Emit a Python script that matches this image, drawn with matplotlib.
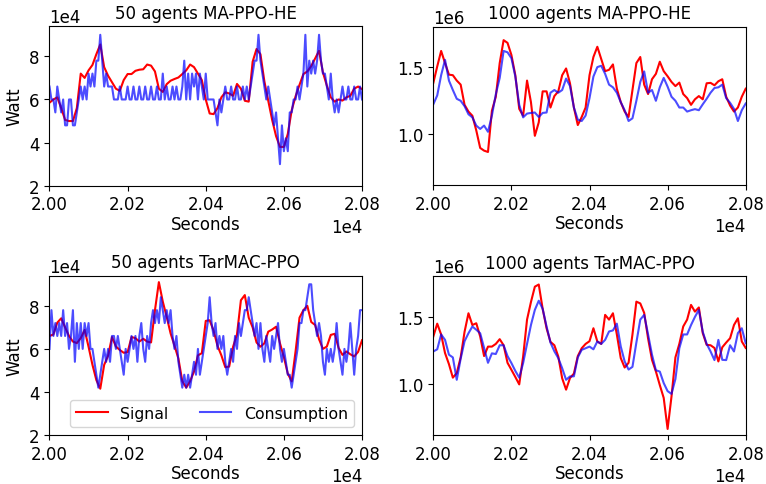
import numpy as np
import matplotlib
matplotlib.use("Agg")
import matplotlib.pyplot as plt

plt.rcParams['font.size'] = 12

# values; time runs 20000..20800 s
t_start, t_end = 20000, 20800

# 50 agents MA-PPO-HE (x1e4 W), signal every 10 s, consumption every 5 s
sig_50_ma = [5.85, 6.0, 6.1, 5.6, 5.05, 5.0, 5.0, 5.6, 7.2, 7.0, 7.35, 7.6, 8.1, 8.55, 7.5, 7.1,
             6.8, 6.5, 6.4, 6.9, 7.18, 7.18, 7.33, 7.38, 7.4, 7.62, 7.57, 7.3, 6.5, 6.35, 6.71,
             6.87, 6.95, 7.02, 7.18, 7.35, 7.62, 7.5, 7.2, 6.9, 6.0, 5.35, 5.32, 5.6, 6.1, 6.33,
             6.28, 6.17, 6.72, 6.5, 5.94, 5.9, 7.75, 8.34, 8.1, 6.85, 5.94, 5.05, 4.3, 3.8, 3.8,
             4.4, 5.5, 6.15, 6.68, 7.18, 7.3, 7.55, 7.9, 8.26, 7.25, 6.64, 6.1, 5.9, 6.0, 5.95,
             6.1, 6.17, 6.5, 6.6, 6.48]
con_50_ma = [6.6, 6.0, 6.0, 5.4, 6.6, 6.0, 5.4, 6.0, 4.8, 4.8, 6.0, 6.0, 4.8, 4.8, 5.4, 6.0,
             6.6, 6.0, 6.6, 6.0, 7.2, 6.6, 7.2, 6.6, 7.8, 7.8, 9.0, 7.8, 6.6, 7.2, 6.6, 6.6,
             6.6,
             6.0, 6.0, 6.0, 6.6, 6.0, 6.0, 6.0, 6.6, 6.0, 6.0, 6.6, 6.0, 6.0, 6.6, 6.0, 6.0,
             6.6, 6.0, 6.0, 6.6, 6.0, 6.0, 6.6, 6.0, 6.0,
             7.2, 6.0, 6.6, 6.0, 6.0, 6.6, 6.0, 6.6, 6.0, 6.0, 6.6,
             7.8, 6.0, 7.2, 6.0, 7.2, 6.6, 7.2, 6.0, 7.2, 6.6, 6.0,
             7.2, 6.0, 6.0, 6.0, 6.0, 5.4, 4.8, 6.0, 5.4, 6.0,
             6.6, 6.0, 6.0, 6.6, 6.0, 6.0, 6.6, 6.0, 6.0, 6.6,
             6.0, 6.6, 6.0, 6.6, 7.2, 7.8, 7.8, 9.0, 7.8, 7.2,
             6.6, 6.0, 6.6, 6.0, 5.4, 4.8, 5.4, 4.2, 3.0, 4.8,
             3.6, 4.2, 3.6, 5.4, 5.4, 6.0, 6.0, 6.6, 6.0, 6.6,
             7.2, 9.0, 6.6, 7.8, 7.2, 7.8, 7.2, 7.8, 9.0, 7.8,
             7.2, 7.2, 6.6, 6.0, 7.2, 6.0, 5.4, 6.0, 5.4, 6.0,
             6.6, 6.0, 6.0, 6.6, 6.0, 6.0, 6.6, 6.0, 6.0, 6.6,
             6.0]

# 1000 agents MA-PPO-HE (x1e6 W), every 10 s
sig_1000_ma = [1.383, 1.505, 1.62, 1.53, 1.444, 1.44, 1.40, 1.37, 1.22, 1.17, 1.139, 1.03, 0.90,
               0.88, 0.87, 1.176, 1.28, 1.53, 1.70, 1.68, 1.59, 1.44, 1.19, 1.139, 1.40, 1.24,
               0.99, 1.09, 1.32, 1.32, 1.20, 1.285, 1.32, 1.44, 1.49, 1.38, 1.20, 1.07, 1.13,
               1.20, 1.44, 1.575, 1.651, 1.56, 1.47, 1.48, 1.52, 1.34, 1.24, 1.17, 1.13, 1.33,
               1.53, 1.575, 1.37, 1.30, 1.41, 1.45, 1.54, 1.47, 1.432, 1.39, 1.359, 1.385, 1.30,
               1.27, 1.22, 1.261, 1.285, 1.261, 1.38, 1.383, 1.365, 1.395, 1.41, 1.28, 1.215,
               1.17, 1.20, 1.28, 1.34]
con_1000_ma = [1.224, 1.29, 1.44, 1.554, 1.40, 1.33, 1.265, 1.25, 1.21, 1.15, 1.127, 1.066,
               1.041, 1.066, 1.02, 1.14, 1.298, 1.42, 1.62, 1.61, 1.566, 1.43, 1.22, 1.127,
               1.155, 1.16, 1.163, 1.13, 1.16, 1.163, 1.31, 1.33, 1.31, 1.33, 1.415, 1.36, 1.20,
               1.11, 1.10, 1.14, 1.27, 1.43, 1.50, 1.51, 1.45, 1.37, 1.35, 1.31, 1.24, 1.18,
               1.10, 1.12, 1.25, 1.39, 1.468, 1.31, 1.33, 1.25, 1.35, 1.42, 1.355, 1.28, 1.25,
               1.20, 1.20, 1.17, 1.18, 1.188, 1.18, 1.224, 1.265, 1.31, 1.345, 1.35, 1.37, 1.27,
               1.235, 1.19, 1.10, 1.18, 1.23]

# 50 agents TarMAC-PPO (x1e4 W)
sig_50_tar = [6.6, 6.67, 7.22, 7.42, 7.0, 6.6, 6.34, 6.27, 6.5, 6.88, 6.1, 5.26, 4.55, 4.15,
              5.26, 5.68, 6.55, 6.11, 5.95, 5.82, 5.85, 6.55, 6.5, 6.34, 6.47, 6.34, 6.3, 7.8,
              9.1, 8.2, 7.49, 6.72, 6.15, 5.55, 4.5, 4.2, 4.5, 4.95, 5.7, 5.8, 7.3, 7.33, 6.85,
              6.15, 5.7, 5.15, 5.18, 6.1, 6.68, 8.26, 8.5, 7.45, 7.0, 6.3, 6.1, 6.26, 6.8, 6.9,
              7.03, 6.26, 5.62, 4.85, 4.49, 5.9, 7.45, 7.8, 8.0, 7.25, 7.11, 6.45, 6.0, 6.11,
              6.65, 6.7, 6.05, 5.72, 5.88, 5.75, 5.65, 5.86, 6.4]
con_50_tar = [6.0, 7.8, 6.6, 7.2, 6.6, 7.2, 6.6, 7.8, 6.6, 7.2, 6.0, 6.6, 7.8, 5.4, 7.2, 6.0,
              7.2, 6.0, 7.2, 6.6, 7.2, 6.0, 6.0, 5.4, 4.8, 4.2, 4.8, 5.4, 6.0, 5.4, 6.0, 5.4,
              6.6, 6.6, 6.0, 6.6, 6.0, 5.4, 4.8, 6.0, 5.4, 6.0, 6.6, 6.0, 6.6, 5.4, 6.6, 7.2,
              6.0, 5.4, 6.6, 6.0, 7.2, 7.8, 7.2, 7.8, 7.2, 8.4, 7.8, 7.2, 7.8, 7.2, 7.8, 6.6,
              6.0, 6.6, 5.4, 4.8, 4.2, 4.8, 4.2, 4.8, 4.2, 4.8, 5.4, 4.8, 6.0, 4.8, 5.4, 6.0,
              6.6, 7.2, 8.4, 7.2, 6.6, 7.2, 6.0, 6.6, 6.0, 6.6, 5.4, 4.8, 5.4, 6.0, 5.4, 6.6,
              6.0, 7.2, 6.6, 7.2, 7.8, 7.8, 8.4, 7.8, 7.2, 6.6, 7.2, 6.0, 7.2, 6.0, 5.4, 6.6,
              6.0, 5.4, 6.6, 6.0, 6.6, 7.2, 6.0, 5.4, 6.0, 5.4, 4.8, 4.8, 4.2, 4.8, 5.4, 6.0,
              7.2, 7.2, 7.8, 7.8, 8.4, 9.0, 9.0, 7.8, 7.2, 6.6, 7.2, 6.6, 5.4, 4.8, 6.0, 5.4,
              6.0, 5.4, 6.0, 7.2, 6.0, 5.4, 4.8, 6.0, 5.4, 6.0, 7.2, 6.0, 4.8, 6.0, 6.6, 7.8,
              7.8]

# 1000 agents TarMAC-PPO (x1e6 W)
sig_1000_tar = [1.355, 1.45, 1.37, 1.232, 1.15, 1.05, 1.084, 1.2, 1.39, 1.527, 1.44, 1.453,
                1.355, 1.21, 1.28, 1.28, 1.30, 1.335, 1.29, 1.16, 1.108, 1.055, 1.00, 1.207,
                1.48, 1.61, 1.724, 1.74, 1.56, 1.416, 1.315, 1.29, 1.207, 1.045, 0.961, 1.047,
                1.08, 1.21, 1.268, 1.30, 1.32, 1.416, 1.318, 1.30, 1.515, 1.48, 1.527, 1.37,
                1.195, 1.125, 1.16, 1.37, 1.613, 1.60, 1.53, 1.34, 1.182, 1.096, 0.995, 0.90,
                0.67, 0.911, 1.20, 1.30, 1.429, 1.48, 1.589, 1.539, 1.57, 1.38, 1.293, 1.29,
                1.27, 1.17, 1.275, 1.31, 1.342, 1.44, 1.49, 1.318, 1.27]
con_1000_tar = [1.244, 1.26, 1.37, 1.33, 1.22, 1.20, 1.034, 1.19, 1.32, 1.379, 1.429, 1.405,
                1.379, 1.27, 1.16, 1.23, 1.225, 1.29, 1.29, 1.21, 1.158, 1.10, 1.05, 1.158,
                1.30, 1.44, 1.552, 1.62, 1.56, 1.429, 1.31, 1.245, 1.195, 1.12, 1.034, 1.059,
                1.06, 1.20, 1.256, 1.268, 1.28, 1.26, 1.318, 1.30, 1.33, 1.392, 1.40, 1.45,
                1.281, 1.17, 1.11, 1.13, 1.31, 1.48, 1.515, 1.37, 1.22, 1.105, 1.095, 1.01,
                0.95, 0.93, 1.04, 1.268, 1.37, 1.37, 1.44, 1.50, 1.552, 1.39, 1.30, 1.244,
                1.18, 1.33, 1.182, 1.18, 1.29, 1.244, 1.38, 1.416, 1.305]

panels = [
    ("50 agents MA-PPO-HE", sig_50_ma, con_50_ma, 1e4),
    ("1000 agents MA-PPO-HE", sig_1000_ma, con_1000_ma, 1e6),
    ("50 agents TarMAC-PPO", sig_50_tar, con_50_tar, 1e4),
    ("1000 agents TarMAC-PPO", sig_1000_tar, con_1000_tar, 1e6),
]

fig = plt.figure(figsize=(7.66, 4.85), dpi=100)
rects = [
    [0.0646, 0.615, 0.408, 0.329],
    [0.5657, 0.6165, 0.4078, 0.3264],
    [0.0646, 0.101, 0.408, 0.3285],
    [0.5657, 0.101, 0.4078, 0.327],
]

for i, ((title, sig, con, scale), rect) in enumerate(zip(panels, rects)):
    ax = fig.add_axes(rect)
    sig = np.array(sig) * scale
    con = np.array(con) * scale
    ts = np.linspace(t_start, t_end, len(sig))
    tc = np.linspace(t_start, t_end, len(con))
    ax.plot(ts, sig, color='red', lw=1.5, label='Signal')
    ax.plot(tc, con, color='blue', alpha=0.7, lw=1.5, label='Consumption')
    ax.set_xlim(t_start, t_end)
    ax.set_xticks(np.arange(20000, 20801, 200))
    if scale == 1e4:
        ax.set_ylim(2e4, 9.4e4)
        ax.set_yticks([2e4, 4e4, 6e4, 8e4])
        ax.set_ylabel('Watt')
    else:
        ax.set_ylim(0.625e6, 1.80e6)
        ax.set_yticks([1.0e6, 1.5e6])
    ax.ticklabel_format(axis='both', style='sci', scilimits=(0, 0), useOffset=False)
    ax.set_xlabel('Seconds', labelpad=1)
    ax.set_title(title, fontsize=12)
    if i == 2:
        ax.legend(loc='lower right', ncol=2, fontsize=11.3)

fig.savefig('out.png', dpi=100)
